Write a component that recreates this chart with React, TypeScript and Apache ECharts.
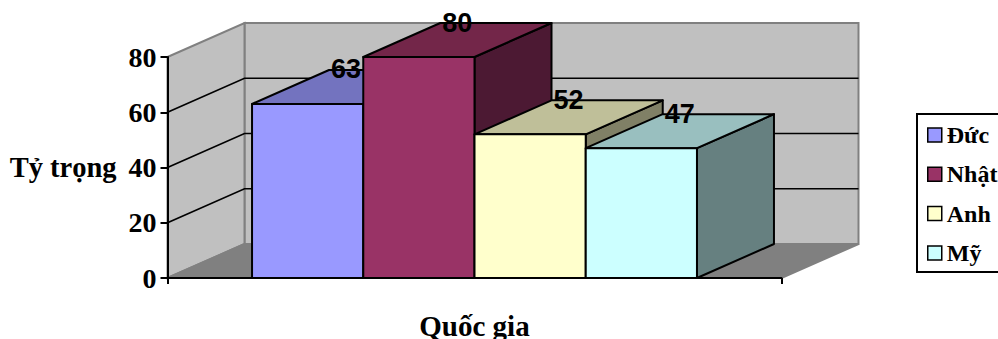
import React, { useEffect, useRef } from "react";
import * as echarts from "echarts";

const countries = ["Đức", "Nhật", "Anh", "Mỹ"];
const shares = [63, 80, 52, 47];
const frontColors = ["#9999FF", "#993366", "#FFFFCC", "#CCFFFF"];
const topColors = ["#7373BF", "#732649", "#BFBF99", "#99BFBF"];
const sideColors = ["#4C4C80", "#4C1933", "#808066", "#668080"];
const gridValues = [20, 40, 60];
const categories = [""];

// Oblique projection of the chart's depth, in pixels.
const DEPTH_X = 77;
const DEPTH_Y = -34;
// Each bar's share of the category band.
const BAR_SHARE = 1 / 5.52;
const SERIF = "'Liberation Serif', 'Times New Roman', serif";
const SANS = "'Liberation Sans', Arial, sans-serif";

const renderWalls = (_params: any, api: any) => {
  const [center, bottom] = api.coord([0, 0]);
  const top = api.coord([0, 80])[1];
  const band = api.size([1, 0])[0];
  const left = center - band / 2;
  const right = center + band / 2;
  const wallStroke = { stroke: "#808080", lineWidth: 2 };
  const children: any[] = [
    {
      type: "polygon",
      shape: {
        points: [
          [left + DEPTH_X, top + DEPTH_Y],
          [right + DEPTH_X, top + DEPTH_Y],
          [right + DEPTH_X, bottom + DEPTH_Y],
          [left + DEPTH_X, bottom + DEPTH_Y],
        ],
      },
      style: { fill: "#C0C0C0", ...wallStroke },
    },
    {
      type: "polygon",
      shape: {
        points: [
          [left, top],
          [left + DEPTH_X, top + DEPTH_Y],
          [left + DEPTH_X, bottom + DEPTH_Y],
          [left, bottom],
        ],
      },
      style: { fill: "#C0C0C0", ...wallStroke },
    },
    {
      type: "polygon",
      shape: {
        points: [
          [left, bottom],
          [left + DEPTH_X, bottom + DEPTH_Y],
          [right + DEPTH_X, bottom + DEPTH_Y],
          [right, bottom],
        ],
      },
      style: { fill: "#808080", ...wallStroke },
    },
  ];
  gridValues.forEach((value) => {
    const y = api.coord([0, value])[1];
    children.push({
      type: "polyline",
      shape: {
        points: [
          [left, y],
          [left + DEPTH_X, y + DEPTH_Y],
          [right + DEPTH_X, y + DEPTH_Y],
        ],
      },
      style: { fill: "none", stroke: "#000", lineWidth: 1.7 },
    });
  });
  return { type: "group", children };
};

const renderBar = (index: number) => (_params: any, api: any) => {
  const [center, base] = api.coord([0, 0]);
  const value = api.value(1);
  const y = api.coord([0, value])[1];
  const w = api.size([1, 0])[0] * BAR_SHARE;
  const x0 = center - 2 * w + index * w;
  const x1 = x0 + w;
  const edge = { stroke: "#000", lineWidth: 2, lineJoin: "round" };
  return {
    type: "group",
    children: [
      {
        type: "polygon",
        shape: {
          points: [
            [x1, y],
            [x1 + DEPTH_X, y + DEPTH_Y],
            [x1 + DEPTH_X, base + DEPTH_Y],
            [x1, base],
          ],
        },
        style: { fill: sideColors[index], ...edge },
      },
      {
        type: "polygon",
        shape: {
          points: [
            [x0, y],
            [x0 + DEPTH_X, y + DEPTH_Y],
            [x1 + DEPTH_X, y + DEPTH_Y],
            [x1, y],
          ],
        },
        style: { fill: topColors[index], ...edge },
      },
      {
        type: "polygon",
        shape: {
          points: [
            [x0, y],
            [x1, y],
            [x1, base],
            [x0, base],
          ],
        },
        style: { fill: frontColors[index], ...edge },
      },
      {
        type: "text",
        z2: 100,
        style: {
          text: String(value),
          x: x0 + DEPTH_X + 17,
          y: y + DEPTH_Y - 0.5,
          align: "center",
          verticalAlign: "middle",
          font: `bold 27px ${SANS}`,
          fill: "#000",
        },
      },
    ],
  };
};

export default function App() {
  const ref = useRef<HTMLDivElement>(null);

  useEffect(() => {
    const chart = echarts.init(ref.current!, undefined, { renderer: "svg" });
    chart.setOption({
      animation: false,
      backgroundColor: "#fff",
      grid: { left: 167.5, top: 57, width: 614, height: 221, outerBoundsMode: "none" },
      legend: {
        data: countries,
        orient: "vertical",
        left: 917,
        top: 114,
        padding: [9, 24, 7, 10],
        itemGap: 15.3,
        itemWidth: 14,
        itemHeight: 14,
        icon: "rect",
        selectedMode: false,
        backgroundColor: "#fff",
        borderColor: "#000",
        borderWidth: 2,
        itemStyle: { borderColor: "#000", borderWidth: 1.5 },
        textStyle: { fontFamily: SERIF, fontWeight: "bold", fontSize: 24, color: "#000", padding: [0, 0, 0, 0] },
      },
      xAxis: {
        type: "category",
        data: categories,
        z: 10,
        name: "Quốc gia",
        nameLocation: "middle",
        nameGap: 33,
        nameTextStyle: { fontFamily: SERIF, fontWeight: "bold", fontSize: 29, color: "#000" },
        axisLine: { lineStyle: { color: "#000", width: 2 } },
        axisTick: { show: true, length: 6, lineStyle: { color: "#000", width: 2 } },
        axisLabel: { show: false },
      },
      yAxis: {
        type: "value",
        min: 0,
        max: 80,
        interval: 20,
        z: 10,
        name: "Tỷ trọng",
        nameLocation: "middle",
        nameRotate: 0,
        nameGap: 51,
        nameTextStyle: { fontFamily: SERIF, fontWeight: "bold", fontSize: 28.5, color: "#000" },
        axisLine: { show: true, lineStyle: { color: "#000", width: 2 } },
        axisTick: { show: true, length: 7, lineStyle: { color: "#000", width: 2 } },
        splitLine: { show: false },
        axisLabel: {
          fontFamily: SERIF,
          fontWeight: "bold",
          fontSize: 28,
          color: "#000",
          margin: 11,
          padding: [5, 0, 0, 0],
        },
      },
      series: [
        {
          name: "walls",
          type: "custom",
          z: 1,
          silent: true,
          clip: false,
          data: [[0, 0]],
          renderItem: renderWalls,
        },
        ...countries.map((name, i) => ({
          name,
          type: "custom",
          z: 2 + i,
          silent: true,
          clip: false,
          itemStyle: { color: frontColors[i] },
          data: [[0, shares[i]]],
          encode: { x: 0, y: 1 },
          renderItem: renderBar(i),
        })),
      ],
    });
    return () => chart.dispose();
  }, []);

  return <div ref={ref} style={{ position: "absolute", left: 0, top: 0, width: 998, height: 339 }} />;
}
